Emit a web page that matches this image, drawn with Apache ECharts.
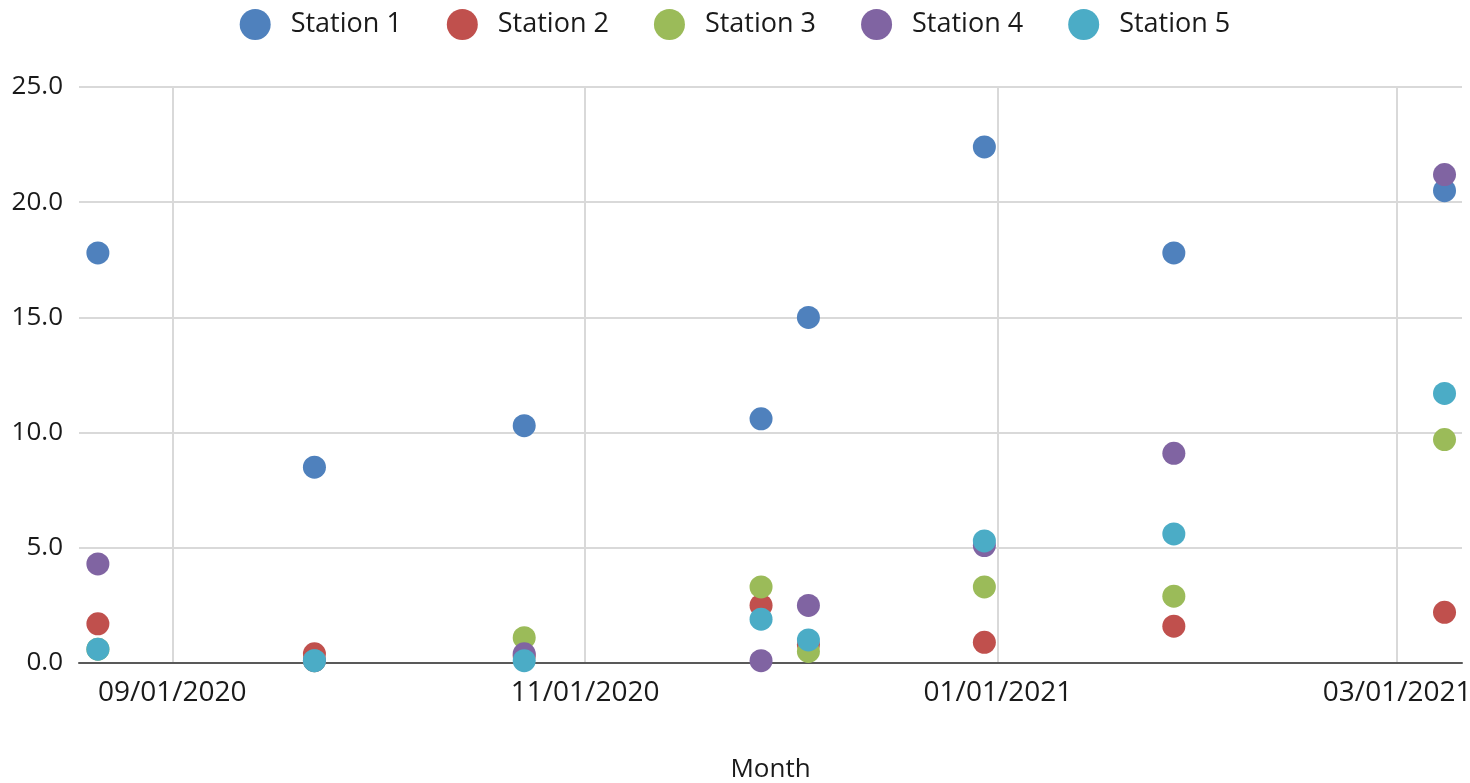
<!DOCTYPE html>
<html><head><meta charset="utf-8">
<script src="https://cdn.jsdelivr.net/npm/echarts@6/dist/echarts.min.js"></script>
<style>html,body{margin:0;padding:0;background:#fff}#c{width:1470px;height:783px}</style>
</head><body><div id="c"></div>
<script>
const dates = ['2020-08-21','2020-09-22','2020-10-23','2020-11-27','2020-12-04','2020-12-30','2021-01-27','2021-03-08'];
const station1 = [17.8, 8.5, 10.3, 10.6, 15.0, 22.4, 17.8, 20.5];
const station2 = [1.7, 0.4, 0.3, 2.5, 0.8, 0.9, 1.6, 2.2];
const station3 = [0.6, 0.1, 1.1, 3.3, 0.5, 3.3, 2.9, 9.7];
const station4 = [4.3, 0.1, 0.4, 0.1, 2.5, 5.1, 9.1, 21.2];
const station5 = [0.6, 0.1, 0.1, 1.9, 1.0, 5.3, 5.6, 11.7];
const seriesNames = ['Station 1','Station 2','Station 3','Station 4','Station 5'];
const xTickDates = ['2020-09-01','2020-11-01','2021-01-01','2021-03-01'];
const xRange = ['2020-08-18 05:00','2021-03-10 14:00'];
const yMin = 0, yMax = 25, yStep = 5;
const colors = ['#4F81BD','#C0504D','#9BBB59','#8064A2','#4BACC6'];

const parse = s => echarts.number.parseDate(s).getTime();
const pad = n => (n < 10 ? '0' : '') + n;
const fmtDate = v => { const d = new Date(v); return pad(d.getMonth()+1) + '/' + pad(d.getDate()) + '/' + d.getFullYear(); };
const xTicks = xTickDates.map(parse);
const allSeries = [station1, station2, station3, station4, station5];
const font = '"Open Sans", sans-serif';
const txt = '#1a1a1a';

const chart = echarts.init(document.getElementById('c'));
chart.setOption({
  animation: false,
  color: colors,
  legend: {
    top: 4, left: 'center', icon: 'circle', itemWidth: 31, itemHeight: 31, itemGap: 45,
    textStyle: { fontFamily: font, fontSize: 27, color: txt, padding: [0, 0, 0, 15] },
    data: seriesNames
  },
  grid: { left: 79, right: 8, top: 87, bottom: 120, containLabel: false, outerBoundsMode: 'none' },
  xAxis: {
    type: 'value', min: parse(xRange[0]), max: parse(xRange[1]),
    name: 'Month', nameLocation: 'middle', nameGap: 94,
    nameTextStyle: { fontFamily: font, fontSize: 26, color: txt },
    axisLine: { show: true, lineStyle: { color: '#595959', width: 2 } },
    axisTick: { show: false, customValues: xTicks },
    axisLabel: { customValues: xTicks, formatter: fmtDate, fontFamily: font, fontSize: 28, color: txt, margin: 16, hideOverlap: false },
    splitLine: { show: true, lineStyle: { color: '#d9d9d9', width: 2 } }
  },
  yAxis: {
    type: 'value', min: yMin, max: yMax, interval: yStep,
    axisLine: { show: false }, axisTick: { show: false },
    axisLabel: { formatter: v => v.toFixed(1), fontFamily: font, fontSize: 26, color: txt, margin: 16 },
    splitLine: { show: true, lineStyle: { color: '#d9d9d9', width: 2 } }
  },
  series: seriesNames.map((name, i) => ({
    name, type: 'scatter', symbolSize: 23,
    itemStyle: { color: colors[i], opacity: 1 },
    emphasis: { disabled: true },
    data: dates.map((d, j) => [parse(d), allSeries[i][j]])
  }))
});
</script></body></html>
